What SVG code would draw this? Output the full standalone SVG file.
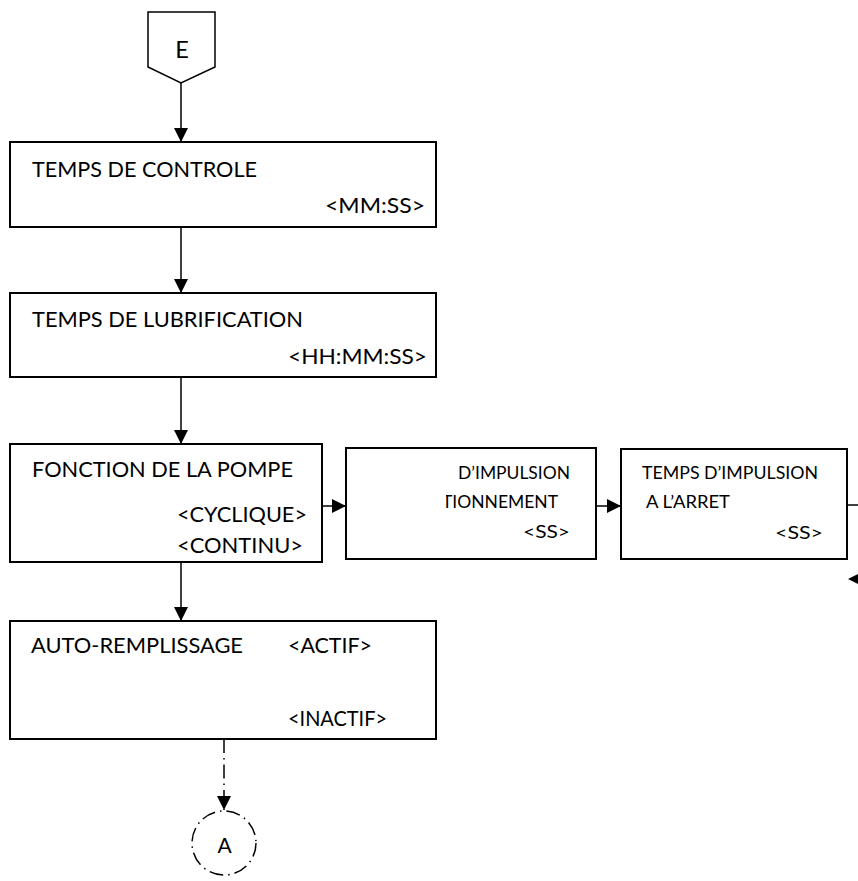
<svg xmlns="http://www.w3.org/2000/svg" width="858" height="881" viewBox="0 0 858 881">
  <style>
    .box { fill: #fff; stroke: #000; stroke-width: 2; }
    .t { font-family: Lato, "Liberation Sans", Arial, sans-serif; font-size: 22px; fill: #000; }
    .s { font-family: Lato, "Liberation Sans", Arial, sans-serif; font-size: 17.7px; fill: #000; }
    .lbl { font-family: Lato, "Liberation Sans", Arial, sans-serif; fill: #000; text-anchor: middle; }
    .con { fill: none; stroke: #000; stroke-width: 1.5; }
    .dd { stroke-dasharray: 14 5 1.5 5; }
  </style>
  <defs>
    <marker id="ah" viewBox="0 0 14 14" refX="14" refY="7" markerWidth="14" markerHeight="14" markerUnits="userSpaceOnUse" orient="auto">
      <path d="M0,0 L14,7 L0,14 z" fill="#000"/>
    </marker>
    <clipPath id="clip-box5">
      <rect x="446" y="449" width="149" height="109"/>
    </clipPath>
  </defs>

  <rect width="858" height="881" fill="#fff"/>

  <!-- connectors -->
  <g id="connectors">
    <path class="con" d="M181,83 V142" marker-end="url(#ah)"/>
    <path class="con" d="M181,227 V293" marker-end="url(#ah)"/>
    <path class="con" d="M181,377 V444" marker-end="url(#ah)"/>
    <path class="con" d="M181,562 V621" marker-end="url(#ah)"/>
    <path class="con" d="M322,506 H346" marker-end="url(#ah)"/>
    <path class="con" d="M596,506 H621" marker-end="url(#ah)"/>
    <path class="con" d="M847,505 H858"/>
    <path d="M848,579 L862,572 L862,586 z" fill="#000"/>
    <path class="con dd" d="M224,739 V810" marker-end="url(#ah)"/>
  </g>

  <!-- entry connector E -->
  <g id="entry-E">
    <path class="con" d="M148,12 H215 V67 L181,83 L148,67 z"/>
    <text class="lbl" x="182" y="58" style="font-size:23.5px">E</text>
  </g>

  <g id="temps-controle">
    <rect class="box" x="10" y="142" width="426" height="85"/>
    <text class="t" x="32" y="177" textLength="225" lengthAdjust="spacingAndGlyphs">TEMPS DE CONTROLE</text>
    <text class="t" x="325" y="213" textLength="100" lengthAdjust="spacingAndGlyphs">&lt;MM:SS&gt;</text>
  </g>

  <g id="temps-lubrification">
    <rect class="box" x="10" y="293" width="426" height="84"/>
    <text class="t" x="32" y="327" textLength="271" lengthAdjust="spacingAndGlyphs">TEMPS DE LUBRIFICATION</text>
    <text class="t" x="288" y="364" textLength="139" lengthAdjust="spacingAndGlyphs">&lt;HH:MM:SS&gt;</text>
  </g>

  <g id="fonction-pompe">
    <rect class="box" x="10" y="444" width="312" height="118"/>
    <text class="t" x="32" y="477" textLength="261" lengthAdjust="spacingAndGlyphs">FONCTION DE LA POMPE</text>
    <text class="t" x="177" y="522" textLength="130" lengthAdjust="spacingAndGlyphs">&lt;CYCLIQUE&gt;</text>
    <text class="t" x="177" y="553" textLength="126" lengthAdjust="spacingAndGlyphs">&lt;CONTINU&gt;</text>
  </g>

  <g id="impulsion-fonctionnement">
    <rect class="box" x="346" y="448" width="250" height="111"/>
    <text class="s" x="458" y="479" textLength="112" lengthAdjust="spacingAndGlyphs">D’IMPULSION</text>
    <text class="s" x="442" y="508" textLength="116" lengthAdjust="spacingAndGlyphs" clip-path="url(#clip-box5)">TIONNEMENT</text>
    <text class="s" x="523" y="538" textLength="47" lengthAdjust="spacingAndGlyphs">&lt;SS&gt;</text>
  </g>

  <g id="impulsion-arret">
    <rect class="box" x="621" y="449" width="226" height="110"/>
    <text class="s" x="642" y="479" textLength="176" lengthAdjust="spacingAndGlyphs">TEMPS D’IMPULSION</text>
    <text class="s" x="646" y="508" textLength="84" lengthAdjust="spacingAndGlyphs">A L’ARRET</text>
    <text class="s" x="775" y="539" textLength="48" lengthAdjust="spacingAndGlyphs">&lt;SS&gt;</text>
  </g>

  <g id="auto-remplissage">
    <rect class="box" x="10" y="621" width="426" height="118"/>
    <text class="t" x="31" y="653" textLength="212" lengthAdjust="spacingAndGlyphs">AUTO-REMPLISSAGE</text>
    <text class="t" x="288" y="653" textLength="84" lengthAdjust="spacingAndGlyphs">&lt;ACTIF&gt;</text>
    <text class="t" x="288" y="726" textLength="99" lengthAdjust="spacingAndGlyphs">&lt;INACTIF&gt;</text>
  </g>

  <!-- off-page connector A -->
  <g id="connector-A">
    <circle class="con dd" cx="224" cy="843" r="32"/>
    <text class="lbl" x="224.5" y="853" style="font-size:21px">A</text>
  </g>
</svg>
